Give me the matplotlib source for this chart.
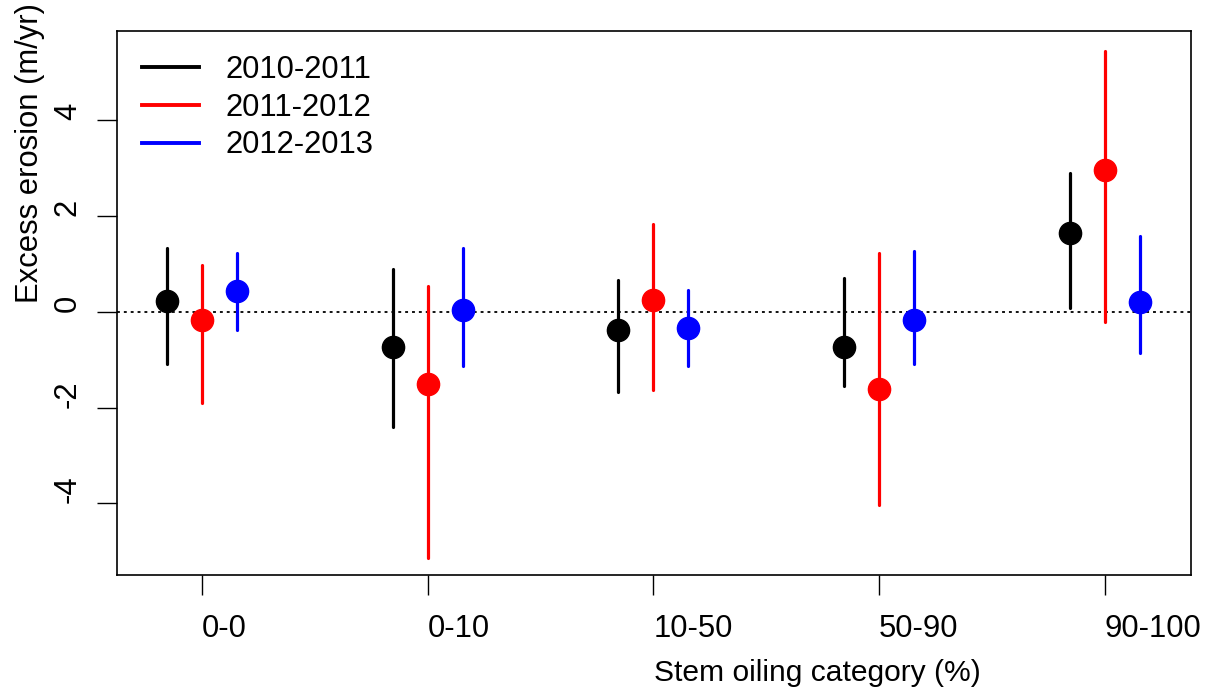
import numpy as np
import matplotlib
matplotlib.use("Agg")
from matplotlib import pyplot as plt
from matplotlib.lines import Line2D

plt.rcParams['font.family'] = ['Liberation Sans', 'DejaVu Sans']

categories = ['0-0', '0-10', '10-50', '50-90', '90-100']
years = ['2010-2011', '2011-2012', '2012-2013']
colors = ['black', 'red', 'blue']

# estimate, lower bound, upper bound per year (m/yr)
mean_1011 = [0.23, -0.73, -0.37, -0.74, 1.65]
low_1011 = [-1.10, -2.40, -1.67, -1.55, 0.07]
high_1011 = [1.34, 0.90, 0.66, 0.70, 2.91]

mean_1112 = [-0.18, -1.50, 0.24, -1.62, 2.97]
low_1112 = [-1.91, -5.14, -1.64, -4.04, -0.22]
high_1112 = [0.98, 0.54, 1.83, 1.23, 5.46]

mean_1213 = [0.44, 0.03, -0.33, -0.18, 0.20]
low_1213 = [-0.38, -1.14, -1.14, -1.10, -0.85]
high_1213 = [1.23, 1.34, 0.46, 1.27, 1.59]

series = [(mean_1011, low_1011, high_1011),
          (mean_1112, low_1112, high_1112),
          (mean_1213, low_1213, high_1213)]
offsets = [-0.155, 0.0, 0.155]

FS = 22.3
W, H = 1209, 698
fig = plt.figure(figsize=(W / 100, H / 100), dpi=100)
ax = fig.add_axes([117 / W, 1 - 575 / H, (1190.5 - 117) / W, (575 - 30.5) / H])

x = np.arange(1, len(categories) + 1)
for (m, lo, hi), off, col in zip(series, offsets, colors):
    xs = x + off
    ax.vlines(xs, lo, hi, color=col, lw=2.3, capstyle='round', zorder=2)
    ax.plot(xs, m, 'o', color=col, ms=16, zorder=3)

ax.axhline(0, color='black', lw=1.3, ls=(0, (1.6, 2.2)), zorder=1)

ax.set_xlim(0.623, 5.38)
ax.set_ylim(-5.50, 5.88)

ax.set_xticks(x)
ax.set_xticklabels(categories, ha='left')
ax.set_yticks([-4, -2, 0, 2, 4])
ax.set_yticklabels(['-4', '-2', '0', '2', '4'], rotation=90, va='bottom', ha='right')
ax.tick_params(axis='both', direction='out', length=14.5, width=1.0, labelsize=FS)
ax.tick_params(axis='x', pad=13.5)
ax.tick_params(axis='y', pad=10)
for sp in ax.spines.values():
    sp.set_linewidth(1.2)

# axis titles start at the middle of the axis, as in the original
ax.text(0.5, -0.194, 'Stem oiling category (%)', transform=ax.transAxes,
        ha='left', va='baseline', fontsize=21.6)
ax.text(-0.074, 0.5, 'Excess erosion (m/yr)', transform=ax.transAxes,
        ha='left', va='baseline', rotation=90, rotation_mode='anchor', fontsize=FS)

handles = [Line2D([], [], color=c, lw=2.8) for c in colors]
ax.legend(handles, years, loc='upper left', frameon=False, fontsize=FS,
          handlelength=1.85, handletextpad=0.85, labelspacing=0.25,
          borderpad=0.0, borderaxespad=0.0, bbox_to_anchor=(0.023, 0.955))

fig.savefig('out.png', dpi=100)
